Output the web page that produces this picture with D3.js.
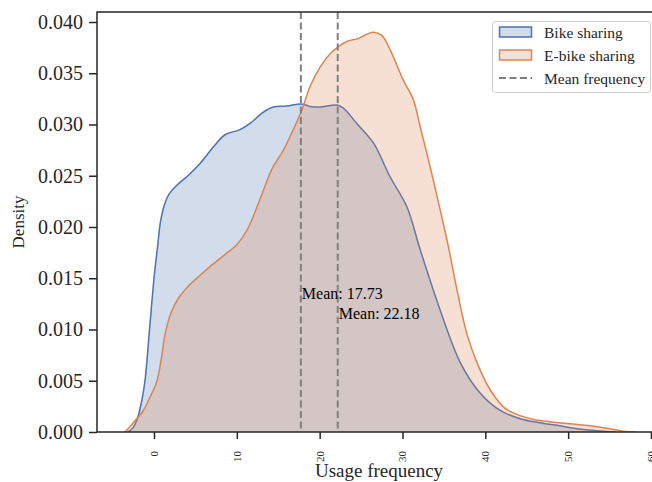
<!DOCTYPE html>
<html>
<head>
<meta charset="utf-8">
<script src="https://cdn.jsdelivr.net/npm/d3@7"></script>
<style>
  html, body { margin: 0; padding: 0; background: #fff; }
  svg { display: block; font-family: "Liberation Serif", "DejaVu Serif", serif; }
</style>
</head>
<body>
<svg id="chart" width="652" height="482"></svg>
<script>
// ---------------- data ----------------
const seriesNames = ["Bike sharing", "E-bike sharing"];
const meanLabel = "Mean frequency";

const bikeX = [-3.14, -2.54, -2.05, -1.49, -1.09, -0.54, 0, 0.42, 0.78, 1.27, 1.81, 2.66, 3.95, 5.56, 7.16, 8.57, 10.39, 11.59, 13.2, 14.41, 16.03, 17.84, 18.84, 20.05, 22.07, 22.86, 24.48, 26.49, 28.5, 30.52, 32.13, 34.54, 36.96, 39.37, 41.79, 44.2, 46.6, 49.0, 51.4, 53.9, 55.7];
const bikeY = [0.0000, 0.0004, 0.0012, 0.0030, 0.0050, 0.0100, 0.0150, 0.0180, 0.0205, 0.0222, 0.0232, 0.0240, 0.0249, 0.0262, 0.0278, 0.0290, 0.0295, 0.0301, 0.0312, 0.0317, 0.0318, 0.0320, 0.03176, 0.0317, 0.0319, 0.0316, 0.0301, 0.0282, 0.0249, 0.0220, 0.0178, 0.0119, 0.0068, 0.0038, 0.0021, 0.0013, 0.0009, 0.0006, 0.0003, 0.0001, 0.0000];

const ebikeX = [-3.5, -2.5, -1.29, -0.48, 0.33, 0.85, 1.33, 2.05, 2.9, 3.99, 5.31, 7.0, 8.7, 10.02, 11.23, 12.8, 14.21, 15.62, 16.82, 17.84, 18.84, 20.05, 21.26, 22.26, 23.27, 24.67, 25.69, 26.49, 27.5, 28.5, 30.11, 31.32, 32.13, 33.33, 34.54, 35.54, 36.7, 37.8, 39.13, 40.6, 42.4, 44.2, 46.0, 47.8, 50.2, 52.7, 55.1, 56.9, 58.1];
const ebikeY = [0.0000, 0.0009, 0.0021, 0.0034, 0.0049, 0.0070, 0.0095, 0.0116, 0.0130, 0.0141, 0.0151, 0.0163, 0.0174, 0.0183, 0.0197, 0.0227, 0.0256, 0.0275, 0.0295, 0.0314, 0.0337, 0.0356, 0.0369, 0.0376, 0.0381, 0.0384, 0.0388, 0.0390, 0.0387, 0.0373, 0.0343, 0.0324, 0.0298, 0.0259, 0.0217, 0.0181, 0.0134, 0.0095, 0.0065, 0.0041, 0.0023, 0.0016, 0.0012, 0.0010, 0.0008, 0.0006, 0.0003, 0.00005, 0.0000];

const means = [17.73, 22.18];
const xTicks = [0, 10, 20, 30, 40, 50, 60];
const yTicks = [0.000, 0.005, 0.010, 0.015, 0.020, 0.025, 0.030, 0.035, 0.040];

// ---------------- layout ----------------
const colors = ["#4c72b0", "#dd8452"];
const ink = "#262626";
const plotLeft = 97, plotRight = 661, plotTop = 12, plotBottom = 432;
const meanLabelY = [0.013, 0.011];

const svg = d3.select("#chart");

const x = d3.scaleLinear()
  .domain([(97 - 154) / 8.283, (661 - 154) / 8.283])
  .range([plotLeft, plotRight]);
const y = d3.scaleLinear()
  .domain([0, 0.04 * (432 - 12) / (432 - 22)])
  .range([plotBottom, plotTop]);

svg.append("defs").append("clipPath").attr("id", "plotclip")
  .append("rect").attr("x", plotLeft).attr("y", plotTop)
  .attr("width", plotRight - plotLeft).attr("height", plotBottom - plotTop);

const g = svg.append("g").attr("clip-path", "url(#plotclip)");

const series = [
  bikeX.map((v, i) => ({ x: v, y: bikeY[i] })),
  ebikeX.map((v, i) => ({ x: v, y: ebikeY[i] }))
];

const curve = d3.curveCatmullRom.alpha(0.5);
const area = d3.area().x(d => x(d.x)).y0(y(0)).y1(d => y(d.y)).curve(curve);
const line = d3.line().x(d => x(d.x)).y(d => y(d.y)).curve(curve);

series.forEach((s, i) => {
  g.append("path").datum(s).attr("d", area)
    .attr("fill", colors[i]).attr("fill-opacity", 0.25).attr("stroke", "none");
  g.append("path").datum(s).attr("d", line)
    .attr("fill", "none").attr("stroke", colors[i]).attr("stroke-width", 1.5);
});

// mean lines
means.forEach((m, i) => {
  g.append("line")
    .attr("x1", x(m)).attr("x2", x(m)).attr("y1", plotTop).attr("y2", plotBottom)
    .attr("stroke", "#808080").attr("stroke-width", 2).attr("stroke-dasharray", "7,3.5");
  svg.append("text")
    .attr("x", x(m) + 1).attr("y", y(meanLabelY[i]))
    .attr("font-size", 16).attr("fill", "#000")
    .text("Mean: " + m.toFixed(2));
});

// axes
const xAxis = d3.axisBottom(x).tickValues(xTicks).tickSize(7).tickPadding(4).tickFormat(d3.format("d"));
const yAxis = d3.axisLeft(y).tickValues(yTicks).tickSize(8).tickPadding(6).tickFormat(d3.format(".3f"));

const gx = svg.append("g").attr("transform", `translate(0,${plotBottom})`).call(xAxis);
gx.select(".domain").remove();
gx.selectAll(".tick line").attr("stroke", ink).attr("stroke-width", 1.5);
gx.selectAll(".tick text")
  .attr("fill", ink).attr("font-size", 11)
  .attr("font-family", "Liberation Serif")
  .attr("text-anchor", "end")
  .attr("dy", null).attr("y", null)
  .attr("transform", "translate(3.5,19) rotate(-90)");

const gy = svg.append("g").attr("transform", `translate(${plotLeft},0)`).call(yAxis);
gy.select(".domain").remove();
gy.selectAll(".tick line").attr("stroke", ink).attr("stroke-width", 1.5);
gy.selectAll(".tick text").attr("fill", ink).attr("font-size", 20)
  .attr("font-family", "Liberation Serif");

// spines (left, top, bottom; right one falls outside the picture)
svg.append("path")
  .attr("d", `M${plotRight},${plotTop}H${plotLeft}V${plotBottom}H${plotRight}`)
  .attr("fill", "none").attr("stroke", ink).attr("stroke-width", 1.5);

// axis labels
svg.append("text")
  .attr("x", (plotLeft + plotRight) / 2).attr("y", 477)
  .attr("text-anchor", "middle").attr("font-size", 19).attr("fill", ink)
  .text("Usage frequency");
svg.append("text")
  .attr("transform", `translate(24,${(plotTop + plotBottom) / 2}) rotate(-90)`)
  .attr("text-anchor", "middle").attr("font-size", 17).attr("fill", ink)
  .text("Density");

// legend
const lg = svg.append("g");
lg.append("rect")
  .attr("x", 492.5).attr("y", 21.5).attr("width", 158).attr("height", 71).attr("rx", 3)
  .attr("fill", "#fff").attr("fill-opacity", 0.8).attr("stroke", "#cccccc").attr("stroke-width", 1);
const rowsY = [32, 55, 78];
seriesNames.forEach((name, i) => {
  lg.append("rect")
    .attr("x", 499.5).attr("y", rowsY[i] - 5).attr("width", 32).attr("height", 10)
    .attr("fill", colors[i]).attr("fill-opacity", 0.25)
    .attr("stroke", colors[i]).attr("stroke-width", 1.5);
  lg.append("text").attr("x", 544).attr("y", rowsY[i] + 5.5)
    .attr("font-size", 15.5).attr("fill", ink).text(name);
});
lg.append("line")
  .attr("x1", 499).attr("x2", 532).attr("y1", rowsY[2]).attr("y2", rowsY[2])
  .attr("stroke", "#808080").attr("stroke-width", 2).attr("stroke-dasharray", "7,3.5");
lg.append("text").attr("x", 544).attr("y", rowsY[2] + 5.5)
  .attr("font-size", 15.5).attr("fill", ink).text(meanLabel);
</script>
</body>
</html>
